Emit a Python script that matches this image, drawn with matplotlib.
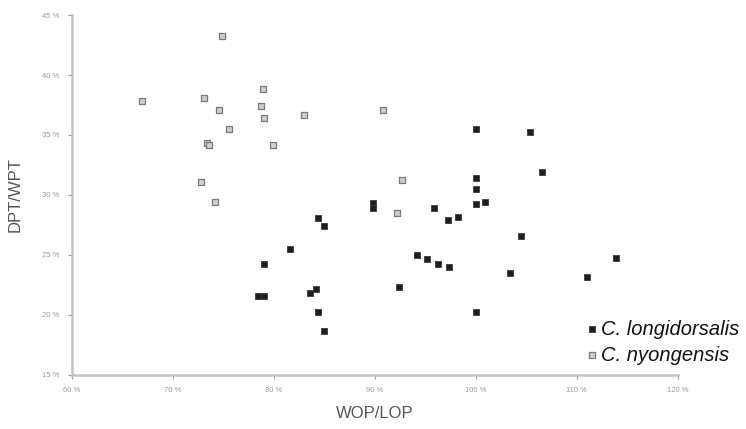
import matplotlib.pyplot as plt

plt.rcParams['font.family'] = ['Liberation Sans', 'DejaVu Sans']

# C. longidorsalis (black squares): WOP/LOP %, DPT/WPT %
long_x = [100.0, 105.4, 106.6, 100.0, 100.0, 100.0, 100.9, 95.9, 97.2, 98.2,
          89.8, 89.8, 84.4, 85.0, 81.6, 79.0, 78.4, 79.0, 83.6, 84.2,
          84.4, 85.0, 92.4, 94.2, 95.2, 96.3, 97.3, 104.5, 103.4, 111.0,
          113.9, 100.0]
long_y = [35.5, 35.25, 31.9, 31.4, 30.5, 29.25, 29.4, 28.9, 27.9, 28.2,
          29.3, 28.9, 28.1, 27.4, 25.5, 24.25, 21.6, 21.6, 21.8, 22.2,
          20.25, 18.7, 22.3, 25.0, 24.7, 24.25, 24.0, 26.6, 23.5, 23.2,
          24.75, 20.25]

# C. nyongensis (grey squares)
nyon_x = [66.9, 74.9, 73.1, 74.6, 75.6, 73.4, 73.6, 78.9, 78.7, 79.0,
          79.9, 83.0, 90.8, 72.8, 74.2, 92.7, 92.2]
nyon_y = [37.8, 43.25, 38.1, 37.1, 35.5, 34.3, 34.2, 38.8, 37.4, 36.4,
          34.2, 36.7, 37.1, 31.1, 29.4, 31.25, 28.5]

x_ticks = [60, 70, 80, 90, 100, 110, 120]
y_ticks = [15, 20, 25, 30, 35, 40, 45]

fig = plt.figure(figsize=(7.46, 4.29), dpi=100)
ax = fig.add_axes([0.0965, 0.126, 0.812, 0.839])

ax.scatter(long_x, long_y, marker='s', s=17, c='#1e1e1e',
           edgecolors='#3a3a3a', linewidths=0.6, label='C. longidorsalis', zorder=3)
ax.scatter(nyon_x, nyon_y, marker='s', s=17, c='#cfcfcf',
           edgecolors='#7a7a7a', linewidths=0.9, label='C. nyongensis', zorder=3)

ax.set_xlim(60, 120)
ax.set_ylim(15, 45)
ax.set_xticks(x_ticks)
ax.set_yticks(y_ticks)
ax.set_xticklabels([f'{t} %' for t in x_ticks])
ax.set_yticklabels([f'{t} %' for t in y_ticks])
ax.tick_params(labelsize=5.5, colors='#9a9a9a', length=3, width=0.8, pad=6)

for side in ['top', 'right']:
    ax.spines[side].set_visible(False)
for side in ['left', 'bottom']:
    ax.spines[side].set_color('#c4c4c4')
    ax.spines[side].set_linewidth(1.8)

ax.set_xlabel('WOP/LOP', fontsize=12, color='#555555', labelpad=8)
ax.set_ylabel('DPT/WPT', fontsize=12, color='#555555', labelpad=14)

leg = ax.legend(loc='lower left', bbox_to_anchor=(0.783, 0.15),
                bbox_transform=fig.transFigure, frameon=False,
                prop={'style': 'italic', 'size': 14.5}, handletextpad=0.05,
                handlelength=0.8, labelspacing=0.35, borderaxespad=0, borderpad=0)
for t in leg.get_texts():
    t.set_color('#111111')

fig.savefig('out.png', dpi=100, facecolor='white')
